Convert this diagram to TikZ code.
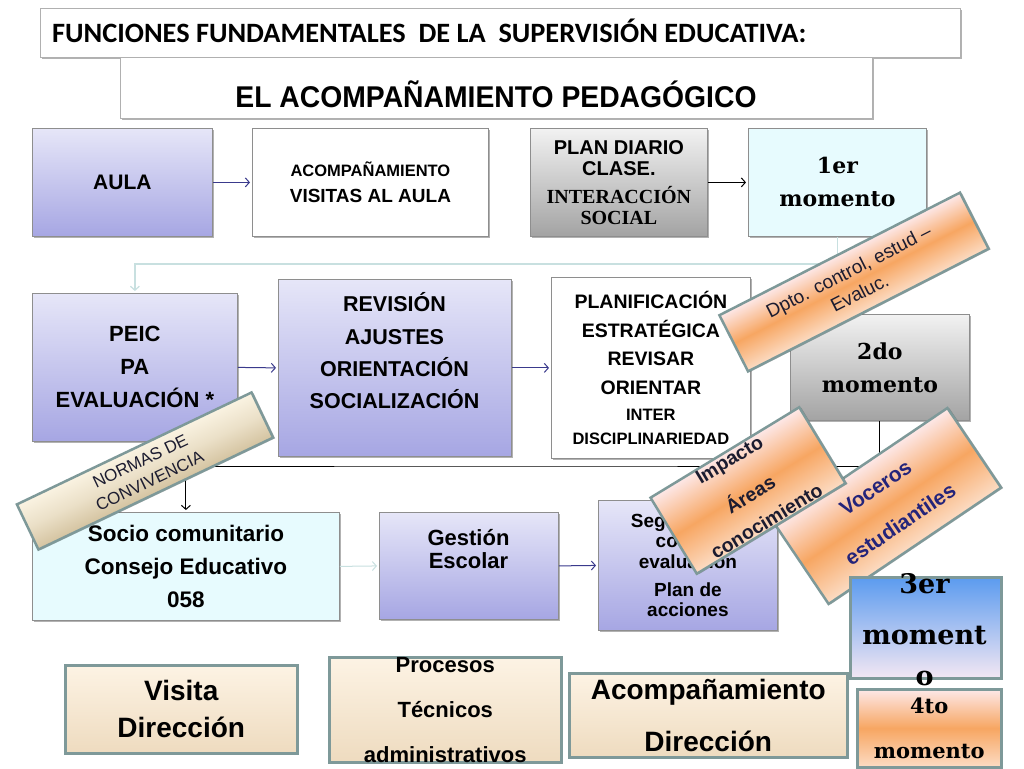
\documentclass[tikz,border=0pt]{standalone}
\usepackage{fontspec}
\usepackage{graphicx}
\setmainfont{Liberation Sans}
\newfontfamily\lserif{Liberation Serif}
\newfontfamily\dserif{DejaVu Serif}
\newfontfamily\carl{Carlito}
\usetikzlibrary{arrows.meta,shadows}
\newcommand\sz[2]{\fontsize{#1}{#2}\selectfont}
\definecolor{boxline}{HTML}{8E8E8E}
\definecolor{lavtop}{HTML}{E6E6F8}
\definecolor{lavbot}{HTML}{A6A6E3}
\definecolor{grytop}{HTML}{F2F2F2}
\definecolor{grybot}{HTML}{A3A3A3}
\definecolor{cyanbg}{HTML}{E7FBFE}
\definecolor{navy}{HTML}{3A3A8C}
\definecolor{navyt}{HTML}{24247A}
\definecolor{lightarr}{HTML}{C8E0E0}
\definecolor{tealgrey}{HTML}{7E9999}
\definecolor{pchtop}{HTML}{FDF3E4}
\definecolor{pchbot}{HTML}{EEDBBF}
\definecolor{bantop}{HTML}{FDE8E8}
\definecolor{banmid}{HTML}{F7A662}
\definecolor{banbot}{HTML}{FCDCC4}
\definecolor{nortop}{HTML}{FAF3E2}
\definecolor{norbot}{HTML}{D4C3A0}
\definecolor{bluetop}{HTML}{5B9BEF}
\definecolor{bluebot}{HTML}{F3E7F3}
\definecolor{darktxt}{HTML}{1C1C30}
\begin{document}
\begin{tikzpicture}[x=1pt,y=-1pt,
  box/.style={draw=boxline,line width=0.8pt,anchor=north west,inner sep=0pt,align=center,
    drop shadow={shadow xshift=1.5pt,shadow yshift=-1.5pt,opacity=0.3,fill=black}},
  lav/.style={box,top color=lavtop,bottom color=lavbot},
  gry/.style={box,top color=grytop,bottom color=grybot},
  cyn/.style={box,fill=cyanbg},
  wht/.style={box,fill=white},
  pch/.style={draw=tealgrey,line width=2.5pt,anchor=north west,inner sep=0pt,align=center,
    top color=pchtop,bottom color=pchbot},
  banner/.style={draw=tealgrey,line width=2.5pt,inner sep=0pt,align=center,
    drop shadow={shadow xshift=1.5pt,shadow yshift=-1.5pt,opacity=0.25,fill=black},
    top color=bantop,bottom color=banbot,middle color=banmid},
  txt/.style={inner sep=0pt,align=center},
  arr/.style={line width=1pt,-{Straight Barb[length=4pt,width=9pt]},shorten >=2pt},
  navyarr/.style={arr,draw=navy},
  blkarr/.style={arr,draw=black},
  lgtarr/.style={arr,draw=lightarr},
]
\useasboundingbox[fill=white] (0,0) rectangle (1024,768);

% titles
\node[wht,draw=boxline!70,minimum width=920pt,minimum height=49pt] (t1) at (40,8) {};
\node[txt,anchor=base west,font=\carl\bfseries\sz{28}{32}] (t1txt) at (52,42)
  {\resizebox{754pt}{\height}{FUNCIONES FUNDAMENTALES\ \ DE LA\ \ SUPERVISIÓN EDUCATIVA:}};
\node[wht,draw=boxline!70,minimum width=752pt,minimum height=61pt] (t2) at (120,57) {};
\node[txt,anchor=base,font=\bfseries\sz{30}{34}] (t2txt) at (496,107)
  {\resizebox{521pt}{\height}{EL ACOMPAÑAMIENTO PEDAGÓGICO}};

% row 1
\node[lav,minimum width=180pt,minimum height=108pt,font=\bfseries\sz{21}{25}] (aula) at (32,128) {AULA};
\node[wht,minimum width=236pt,minimum height=108pt,font=\bfseries\sz{19}{26}] (acomp) at (252,128)
  {{\sz{16.5}{26}ACOMPAÑAMIENTO}\\VISITAS AL AULA};
\node[gry,minimum width=177pt,minimum height=108pt,font=\bfseries\sz{20}{20.5}] (plan) at (530,128)
  {PLAN DIARIO\\CLASE.\\[8pt]{\lserif INTERACCIÓN}\\{\lserif SOCIAL}};
\node[cyn,minimum width=178pt,minimum height=108pt,font=\dserif\bfseries\sz{22}{33}] (m1) at (748,128)
  {1er\\momento};

% row 2
\node[lav,minimum width=205pt,minimum height=148pt,font=\bfseries\sz{22}{33}] (peic) at (32,293)
  {PEIC\\PA\\EVALUACIÓN *};
\node[lav,minimum width=233pt,minimum height=177pt] (rev) at (278,279) {};
\node[txt,font=\bfseries\sz{21.5}{32.3}] (revtxt) at (394.5,351)
  {REVISIÓN\\AJUSTES\\ORIENTACIÓN\\SOCIALIZACIÓN};
\node[wht,minimum width=199pt,minimum height=181pt,font=\bfseries\sz{19.5}{28.5}] (planif) at (551,277)
  {PLANIFICACIÓN\\ESTRATÉGICA\\REVISAR\\ORIENTAR\\[-2.5pt]{\sz{16.5}{20}INTER}\\[-4.5pt]{\sz{16.5}{20}DISCIPLINARIEDAD}};
\node[gry,minimum width=179pt,minimum height=106pt,font=\dserif\bfseries\sz{22}{33}] (m2) at (790,314)
  {2do\\momento};

% row 3
\node[cyn,minimum width=307pt,minimum height=108pt,font=\bfseries\sz{22.5}{33}] (socio) at (32,512)
  {Socio comunitario\\Consejo Educativo\\058};
\node[lav,minimum width=179pt,minimum height=107pt] (gest) at (379,512) {};
\node[txt,font=\bfseries\sz{22}{23}] (gesttxt) at (468.5,549) {Gestión\\Escolar};
\node[lav,minimum width=179pt,minimum height=130pt,font=\bfseries\sz{19}{20.5}] (seg) at (598,500)
  {Seguimiento\\control\\evaluación\\[7.5pt]Plan de\\acciones};

% connectors
\coordinate (r1) at (480,264);
\draw[lgtarr,line width=1.2pt] (m1.south) |- (r1) -| (peic.north);
\coordinate (r2) at (480,466);
\draw[blkarr] (m2.south) |- (r2) -| (socio.north);
\draw[navyarr] (aula.east) -- (acomp.west);
\draw[blkarr] (plan.east) -- (m1.west);
\draw[navyarr] (peic.east) -- (rev.west);
\draw[navyarr] (rev.east) -- (planif.west);
\draw[lgtarr] (socio.east) -- (gest.west);
\draw[navyarr] (gest.east) -- (seg.west);

% bottom row
\node[pch,minimum width=232pt,minimum height=88pt,font=\bfseries\sz{28}{37}] (vis) at (64,664)
  {Visita\\Dirección};
\node[pch,minimum width=232pt,minimum height=100pt,font=\bfseries\sz{22}{45}] (proc) at (328,656)
  {Procesos\\Técnicos\\administrativos};
\node[pch,minimum width=278pt,minimum height=84pt,font=\bfseries\sz{28}{52}] (acd) at (568,672)
  {Acompañamiento\\Dirección};

% banners (rotated at canvas level so that the shading follows them)
\begin{scope}[transform canvas={shift={(145,471)},rotate=25.5}]
\node[banner,top color=nortop,bottom color=norbot,middle color=nortop!60!norbot,
  minimum width=260pt,minimum height=50pt,font=\sz{17}{22},text=darktxt] (normas) at (0,0)
  {NORMAS DE\\CONVIVENCIA};
\end{scope}
\begin{scope}[transform canvas={shift={(854,282)},rotate=27}]
\node[banner,minimum width=270pt,minimum height=63pt,font=\sz{19}{24},text=darktxt] (dpto) at (0,0)
  {Dpto. control, estud –\\Evaluc.};
\end{scope}
\begin{scope}[transform canvas={shift={(888,506)},rotate=34}]
\node[banner,minimum width=208pt,minimum height=96pt,font=\bfseries\sz{21}{44},text=navyt] (voc) at (0,0)
  {Voceros\\estudiantiles};
\end{scope}
\begin{scope}[transform canvas={shift={(748,490.5)},rotate=31.3}]
\node[banner,minimum width=174pt,minimum height=89pt,font=\bfseries\sz{19.5}{31},text=darktxt] (imp) at (0,0)
  {Impacto\\[10pt]Áreas\\conocimiento};
\end{scope}

% moments 3 and 4
\node[pch,top color=bluetop,bottom color=bluebot,minimum width=151pt,minimum height=101pt] (m3) at (849,576) {};
\node[txt,font=\dserif\bfseries\sz{27}{41}] (m3txt) at (924.5,630) {3er\\[10pt]moment\\o};
\node[pch,top color=bantop,bottom color=banbot,middle color=banmid,minimum width=144pt,minimum height=78pt,
  font=\dserif\bfseries\sz{21}{44.5}] (m4) at (856,688) {4to\\momento};
\end{tikzpicture}
\end{document}
